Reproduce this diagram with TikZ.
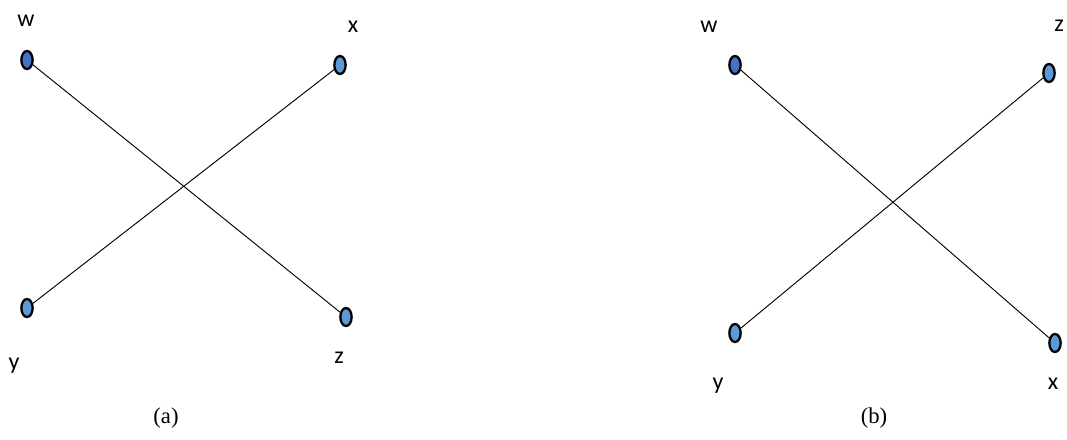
\documentclass[tikz,border=0pt]{standalone}
\usepackage{fontspec}
\newfontfamily\lblfont{Carlito}
\newfontfamily\capfont{Liberation Serif}
\usetikzlibrary{shapes.geometric}
\definecolor{vdark}{RGB}{68,114,196}
\definecolor{vlight}{RGB}{91,155,213}
\tikzset{
  vert/.style={ellipse, draw=black, line width=1.7pt, fill=vlight, minimum width=8.5pt, minimum height=13.5pt, inner sep=0pt},
  vertd/.style={vert, fill=vdark},
  lbl/.style={font=\lblfont\fontsize{18}{20}\selectfont, inner sep=0pt},
  captxt/.style={font=\capfont\fontsize{17}{20}\selectfont, inner sep=0pt},
  conn/.style={line width=0.7pt, black}
}
\begin{document}
\begin{tikzpicture}[x=0.75pt, y=-0.75pt]
\useasboundingbox (0,0) rectangle (1067,439);
% (a)
\node[vertd] (aw) at (27,60) {};
\node[vert] (ax) at (340,65) {};
\node[vert] (ay) at (27,308) {};
\node[vert] (az) at (346,317) {};
\draw[conn] (aw) -- (az);
\draw[conn] (ax) -- (ay);
\node[lbl] (law) at (26,21) {w};
\node[lbl] (lax) at (353,27) {x};
\node[lbl] (lay) at (14,366) {y};
\node[lbl] (laz) at (339,358) {z};
\node[captxt] (capa) at (166,418) {(a)};
% (b)
\node[vertd] (bw) at (735,65) {};
\node[vert] (bz) at (1049,73) {};
\node[vert] (by) at (735,333) {};
\node[vert] (bx) at (1055,343) {};
\draw[conn] (bw) -- (bx);
\draw[conn] (bz) -- (by);
\node[lbl] (lbw) at (709,27) {w};
\node[lbl] (lbz) at (1059,26) {z};
\node[lbl] (lby) at (718,386) {y};
\node[lbl] (lbx) at (1053,384) {x};
\node[captxt] (capb) at (874,418) {(b)};
\end{tikzpicture}
\end{document}
